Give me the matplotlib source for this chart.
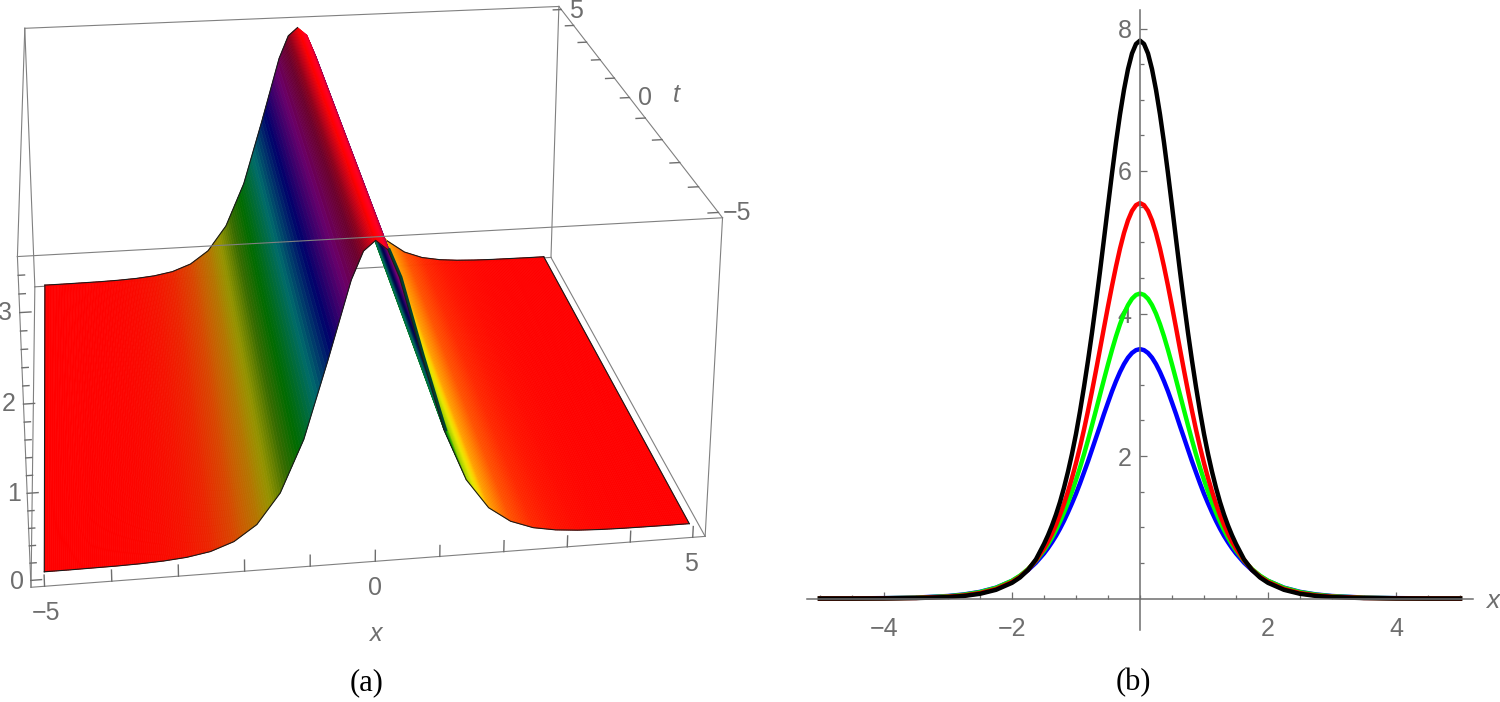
from __future__ import annotations

import matplotlib

matplotlib.use("Agg")
import matplotlib.pyplot as plt
import numpy as np
from matplotlib.collections import PolyCollection
from matplotlib.colors import hsv_to_rgb
from matplotlib.ticker import FixedLocator

# panel (a): surface profile, same for every t
surf_x = [-5, -4.64, -4.29, -3.93, -3.57, -3.21, -2.86, -2.5, -2.14, -1.79, -1.43,
          -1.07, -0.71, -0.36, -0.18, 0, 0.18, 0.36, 0.71, 1.07, 1.43, 1.79, 2.14,
          2.5, 2.86, 3.21, 3.57, 3.93, 4.29, 4.64, 5]
surf_z = [0.001, 0.001, 0.003, 0.005, 0.011, 0.023, 0.046, 0.093, 0.19, 0.37, 0.72,
          1.32, 2.19, 3.08, 3.39, 3.5, 3.39, 3.08, 2.19, 1.32, 0.72, 0.37, 0.19,
          0.093, 0.046, 0.023, 0.011, 0.005, 0.003, 0.001, 0.001]
surf_t = [-5, 5]

# panel (b): values for x >= 0, the curves are symmetric
curve_x = [0, 0.0625, 0.125, 0.1875, 0.25, 0.3125, 0.375, 0.4375, 0.5, 0.5625, 0.625, 0.6875,
           0.75, 0.8125, 0.875, 0.9375, 1, 1.0625, 1.125, 1.1875, 1.25, 1.3125, 1.375, 1.4375,
           1.5, 1.625, 1.75, 1.875, 2, 2.25, 2.5, 2.75, 3, 3.5, 4, 4.5, 5]
blue_y = [3.5, 3.486, 3.446, 3.38, 3.29, 3.179, 3.05, 2.907, 2.75, 2.59, 2.42, 2.256,
          2.09, 1.925, 1.77, 1.616, 1.47, 1.337, 1.21, 1.09, 0.98, 0.88, 0.79, 0.707,
          0.632, 0.503, 0.398, 0.314, 0.247, 0.152, 0.093, 0.057, 0.035, 0.013, 0.005, 0.002, 0.001]
green_y = [4.28, 4.261, 4.207, 4.118, 3.998, 3.85, 3.679, 3.489, 3.286, 3.075, 2.86, 2.644,
           2.431, 2.223, 2.024, 1.838, 1.664, 1.5, 1.347, 1.207, 1.079, 0.962, 0.855, 0.76,
           0.674, 0.53, 0.413, 0.321, 0.249, 0.149, 0.089, 0.053, 0.031, 0.011, 0.004, 0.001, 0.001]
red_y = [5.55, 5.521, 5.44, 5.308, 5.13, 4.911, 4.66, 4.388, 4.1, 3.802, 3.5, 3.201,
         2.91, 2.633, 2.37, 2.126, 1.9, 1.693, 1.503, 1.33, 1.173, 1.034, 0.91, 0.8,
         0.702, 0.537, 0.405, 0.305, 0.232, 0.133, 0.076, 0.043, 0.025, 0.008, 0.003, 0.001, 0.0]
black_y = [7.83, 7.783, 7.65, 7.43, 7.14, 6.794, 6.4, 5.966, 5.51, 5.048, 4.59, 4.15,
           3.73, 3.338, 2.97, 2.626, 2.31, 2.03, 1.78, 1.555, 1.354, 1.179, 1.024, 0.887,
           0.765, 0.55, 0.4, 0.295, 0.22, 0.122, 0.066, 0.036, 0.02, 0.006, 0.002, 0.0, 0.0]

curve_series = [(blue_y, "#0000ff"), (green_y, "#00ff00"), (red_y, "#ff0000"), (black_y, "#000000")]

GRAY = "#6e6e6e"
BOX_GRAY = "#808080"
TICK_FONT = ["Liberation Sans", "DejaVu Sans"]

# box limits and where its corners land in the picture
BX, BT, Z0, Z1 = 5.2, 5.2, -0.08, 3.6
corners_3d = [(-BX, -BT, Z0), (BX, -BT, Z0), (BX, BT, Z0), (-BX, BT, Z0),
              (-BX, -BT, Z1), (BX, -BT, Z1), (BX, BT, Z1), (-BX, BT, Z1)]
corners_px = [(31.6, 587), (705, 537), (551, 257), (34.5, 287),
              (17, 257), (722.5, 217), (559, 7), (25, 28)]


def fit_camera() -> np.ndarray:
    rows = []
    for (x, t, z), (u, v) in zip(corners_3d, corners_px):
        rows.append([x, t, z, 1, 0, 0, 0, 0, -u * x, -u * t, -u * z, -u])
        rows.append([0, 0, 0, 0, x, t, z, 1, -v * x, -v * t, -v * z, -v])
    _, _, vt = np.linalg.svd(np.array(rows, dtype=float))
    return vt[-1].reshape(3, 4)


def project(cam: np.ndarray, x, t, z) -> np.ndarray:
    x, t, z = np.broadcast_arrays(np.asarray(x, float), np.asarray(t, float), np.asarray(z, float))
    pts = np.stack([x, t, z, np.ones_like(x)], axis=-1) @ cam.T
    return pts[..., :2] / pts[..., 2:]


def surface_colour(z, slope) -> np.ndarray:
    hue = np.clip(z / 3.5, 0, 1) * 0.999
    val = np.where(
        slope >= 0,
        1 - 0.58 * np.clip(slope / 1.5, 0, 1),
        1 - 0.72 * np.clip((-slope - 0.9) / 1.6, 0, 1),
    )
    return hsv_to_rgb(np.stack([hue, np.ones_like(hue), val], axis=-1))


def draw_surface(ax, cam) -> None:
    xs = np.array(surf_x, float)
    zs = np.array(surf_z, float)
    slope = np.gradient(zs, xs)
    t0, t1 = surf_t
    verts, cols = [], []
    # camera sits near the x = -5 side, so paint from the far side to the near one
    for i in range(len(xs) - 2, -1, -1):
        fr = np.linspace(1, 0, 13)
        sub_x = xs[i] + fr * (xs[i + 1] - xs[i])
        sub_z = zs[i] + fr * (zs[i + 1] - zs[i])
        sub_s = slope[i] + fr * (slope[i + 1] - slope[i])
        c = surface_colour(sub_z, sub_s)
        for k in range(len(fr) - 1):
            a = project(cam, [sub_x[k], sub_x[k + 1], sub_x[k + 1], sub_x[k]],
                        [t0, t0, t1, t1],
                        [sub_z[k], sub_z[k + 1], sub_z[k + 1], sub_z[k]])
            verts.append(a)
            cols.append((c[k] + c[k + 1]) / 2)
    ax.add_collection(PolyCollection(verts, facecolors=cols, edgecolors=cols, linewidths=0.5, zorder=3))

    # dark sliver along the front edge, just right of the ridge
    keep = (xs >= 0.18) & (xs <= 1.07)
    sliver = project(cam, xs[keep], t0, zs[keep])
    ax.plot(sliver[:, 0] + 1.5, sliver[:, 1], color="#004030", lw=2.2, zorder=3.5)

    front = project(cam, xs, t0, zs)
    ax.plot(front[:, 0], front[:, 1], color="#1a1a1a", lw=0.8, zorder=4)
    # back edge is hidden behind the ridge between x = 0 and x = 1.79
    back = project(cam, xs, t1, zs)
    ax.plot(back[xs <= 0, 0], back[xs <= 0, 1], color="#1a1a1a", lw=0.8, zorder=4)
    ax.plot(back[xs >= 1.79, 0], back[xs >= 1.79, 1], color="#1a1a1a", lw=0.8, zorder=4)
    for x_edge, z_edge in [(xs[0], zs[0]), (xs[-1], zs[-1])]:
        edge = project(cam, x_edge, np.array(surf_t, float), z_edge)
        ax.plot(edge[:, 0], edge[:, 1], color="#1a1a1a", lw=0.8, zorder=4)


def draw_box(ax, cam) -> None:
    c = project(cam, *np.array(corners_3d).T)
    back = [(3, 2), (2, 6), (6, 7), (7, 3), (7, 4), (3, 0), (2, 1), (6, 5)]
    front = [(0, 1), (1, 5), (5, 4), (4, 0)]
    for i, j in back:
        ax.plot(c[[i, j], 0], c[[i, j], 1], color=BOX_GRAY, lw=0.8, zorder=2)
    for i, j in front:
        ax.plot(c[[i, j], 0], c[[i, j], 1], color=BOX_GRAY, lw=0.8, zorder=5)

    # x ticks along the front bottom edge
    for x in range(-5, 6):
        p = project(cam, [x, x], -BT, [Z0, Z0 + 0.13])
        ax.plot(p[:, 0], p[:, 1], color=GRAY, lw=1.0, zorder=5)
    # t ticks along the top right edge
    for t in range(-5, 6):
        p = project(cam, [BX, BX - 0.16], t, Z1)
        ax.plot(p[:, 0], p[:, 1], color=GRAY, lw=1.0, zorder=5)
    # z ticks along the front left edge
    for n in range(0, 18):
        z = n * 0.2
        d = 0.16 if n % 5 == 0 else 0.09
        p = project(cam, [-BX, -BX + d], -BT, z)
        ax.plot(p[:, 0], p[:, 1], color=GRAY, lw=1.0, zorder=5)

    labels = [("0", 17, 582), ("1", 14, 494), ("2", 9, 404), ("3", 5, 313),
              ("\u22125", 46, 613), ("0", 375, 588), ("5", 691, 564),
              ("5", 576, 11), ("0", 645, 98), ("\u22125", 737, 213)]
    for s, px, py in labels:
        ax.text(px, py, s, color=GRAY, fontsize=18, ha="center", va="center", family=TICK_FONT)
    ax.text(376, 634, "x", color=GRAY, fontsize=18, style="italic", ha="center", va="center", family=TICK_FONT)
    ax.text(676, 95, "t", color=GRAY, fontsize=18, style="italic", ha="center", va="center", family=TICK_FONT)


def draw_curves(ax) -> None:
    half = np.array(curve_x, float)
    xs = np.concatenate([-half[::-1], half[1:]])
    for vals, colour in curve_series:
        half_y = np.array(vals, float)
        ys = np.concatenate([half_y[::-1], half_y[1:]])
        ax.plot(xs, ys, color=colour, lw=3.2, solid_joinstyle="round", zorder=3)

    ax.set_xlim((800 - 1140) / 64, (1500 - 1140) / 64)
    ax.set_ylim((598.5 - 702) / 71.25, 598.5 / 71.25)
    for side in ("top", "right"):
        ax.spines[side].set_visible(False)
    ax.spines["left"].set_position("zero")
    ax.spines["bottom"].set_position("zero")
    ax.spines["left"].set_bounds((598.5 - 630) / 71.25, (598.5 - 10) / 71.25)
    ax.spines["bottom"].set_bounds((807 - 1140) / 64, (1473 - 1140) / 64)
    for side in ("left", "bottom"):
        ax.spines[side].set_color(GRAY)
        ax.spines[side].set_linewidth(1.1)
        ax.spines[side].set_zorder(4)

    ax.set_xticks([-4, -2, 2, 4])
    ax.set_xticklabels(["\u22124", "\u22122", "2", "4"])
    ax.set_yticks([2, 4, 6, 8])
    ax.xaxis.set_minor_locator(FixedLocator([v / 2 for v in range(-10, 11) if v % 4 != 0 or abs(v) == 10 or v == 0]))
    ax.yaxis.set_minor_locator(FixedLocator([v / 2 for v in range(1, 17) if v % 4 != 0]))
    ax.tick_params(which="major", direction="in", length=5, width=0.9, color=GRAY, labelcolor=GRAY, labelsize=18)
    ax.tick_params(which="minor", direction="in", length=3, width=0.9, color=GRAY)
    ax.tick_params(axis="x", which="major", pad=13)
    ax.tick_params(axis="y", which="major", pad=6)
    for lab in ax.get_xticklabels() + ax.get_yticklabels():
        lab.set_family(TICK_FONT)
    ax.text((1493 - 1140) / 64, (598.5 - 601) / 71.25, "x", color=GRAY, fontsize=19, style="italic",
            ha="center", va="center", family=TICK_FONT)


def main() -> None:
    fig = plt.figure(figsize=(15, 7.02), dpi=100)

    ax_a = fig.add_axes([0, 0, 0.5, 1])
    ax_a.set_xlim(0, 750)
    ax_a.set_ylim(702, 0)
    ax_a.axis("off")
    cam = fit_camera()
    draw_box(ax_a, cam)
    draw_surface(ax_a, cam)

    ax_b = fig.add_axes([800 / 1500, 0, 700 / 1500, 1])
    ax_b.patch.set_alpha(0)
    draw_curves(ax_b)

    fig.text(367 / 1500, 1 - 683 / 702, "(a)", family="Liberation Serif", fontsize=22, ha="center", va="center")
    fig.text(1133 / 1500, 1 - 683 / 702, "(b)", family="Liberation Serif", fontsize=22, ha="center", va="center")

    fig.savefig("out.png", dpi=100)
    plt.close(fig)


if __name__ == "__main__":
    main()
